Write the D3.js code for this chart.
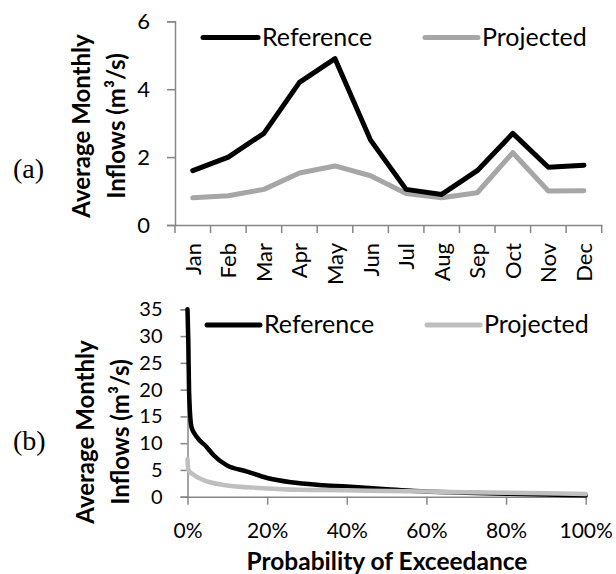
<!DOCTYPE html>
<html>
<head>
<meta charset="utf-8">
<script src="https://cdn.jsdelivr.net/npm/d3@7"></script>
<style>
  body { margin: 0; background: #fff; }
  text { font-family: Lato, "Open Sans", sans-serif; fill: #000; }
</style>
</head>
<body>
<svg id="chart" width="616" height="574"></svg>
<script>
(function() {

  // panel (a): average monthly inflows
  var months = ["Jan", "Feb", "Mar", "Apr", "May", "Jun", "Jul", "Aug", "Sep", "Oct", "Nov", "Dec"];
  var refMonthly  = [1.6, 2.0, 2.7, 4.2, 4.9, 2.5, 1.05, 0.9, 1.6, 2.7, 1.7, 1.76];
  var projMonthly = [0.8, 0.86, 1.05, 1.53, 1.74, 1.45, 0.93, 0.8, 0.95, 2.13, 1.0, 1.01];
  var yTicksA = [0, 2, 4, 6];

  // panel (b): flow duration curves (probability of exceedance in %)
  var refProb  = [0, 0.2, 0.4, 1, 2.3, 4.8, 6.5, 9.8, 15, 20, 26, 33, 40, 50, 57, 70, 80, 90, 100];
  var refFlow  = [35, 29, 19.5, 13, 11.2, 9.3, 7.8, 5.9, 4.7, 3.5, 2.7, 2.2, 1.9, 1.4, 1.05, 0.75, 0.55, 0.4, 0.25];
  var projProb = [0, 0.2, 1.5, 4, 9, 19, 28, 40, 50, 60, 70, 80, 90, 100];
  var projFlow = [7, 5, 4.1, 3.1, 2.2, 1.6, 1.3, 1.2, 1.05, 0.95, 0.85, 0.75, 0.65, 0.5];
  var xTicksB = [0, 20, 40, 60, 80, 100];
  var yTicksB = [0, 5, 10, 15, 20, 25, 30, 35];

  var axisColor = "#868686",
      black = "#000",
      grayA = "#a6a6a6",
      grayB = "#bfbfbf";

  var svg = d3.select("#chart");

  // ---------- panel (a) ----------
  var xA = d3.scaleBand()
      .domain(months)
      .range([175, 601.7]);

  var yA = d3.scaleLinear()
      .domain([0, 6])
      .range([225, 21.3]);

  var gA = svg.append("g");

  var yAxisA = d3.axisLeft(yA)
      .tickValues(yTicksA)
      .tickSize(8)
      .tickPadding(17)
      .tickFormat(d3.format("d"));

  gA.append("g")
      .attr("transform", "translate(" + xA.range()[0] + ",0)")
      .call(yAxisA)
      .call(styleAxis, 22);

  var xAxisA = d3.axisBottom(xA)
      .tickSize(0)
      .tickSizeOuter(0)
      .tickPadding(0);

  var xAxisG = gA.append("g")
      .attr("transform", "translate(0," + yA(0) + ")")
      .call(xAxisA)
      .call(styleAxis, 22);

  xAxisG.selectAll(".tick text")
      .attr("transform", "translate(8,18) rotate(-90)")
      .attr("text-anchor", "end")
      .attr("dy", 0)
      .attr("y", 0);

  // category boundary ticks
  xAxisG.selectAll(".bound")
      .data(months.map(m => xA(m)).concat([xA.range()[1]]))
    .enter().append("line")
      .attr("x1", d => d).attr("x2", d => d)
      .attr("y1", 0).attr("y2", 8)
      .attr("stroke", axisColor)
      .attr("stroke-width", 1.5);

  var lineA = d3.line()
      .x((d, i) => xA(months[i]) + xA.bandwidth() / 2)
      .y(d => yA(d));

  gA.append("path")
      .datum(projMonthly)
      .attr("d", lineA)
      .attr("fill", "none")
      .attr("stroke", grayA)
      .attr("stroke-width", 5)
      .attr("stroke-linejoin", "round")
      .attr("stroke-linecap", "round");

  gA.append("path")
      .datum(refMonthly)
      .attr("d", lineA)
      .attr("fill", "none")
      .attr("stroke", black)
      .attr("stroke-width", 5)
      .attr("stroke-linejoin", "round")
      .attr("stroke-linecap", "round");

  drawLegend(gA, 203, 258, 37.5, 46, black, "Reference");
  drawLegend(gA, 425, 478, 37.5, 46, grayA, "Projected");

  drawYTitle(svg, 90, 125, 126);

  svg.append("text")
      .attr("x", 13)
      .attr("y", 178)
      .style("font-family", "'Liberation Serif', serif")
      .style("font-size", "28px")
      .text("(a)");

  // ---------- panel (b) ----------
  var xB = d3.scaleLinear()
      .domain([0, 100])
      .range([187.5, 585.7]);

  var yB = d3.scaleLinear()
      .domain([0, 35])
      .range([496.7, 309.3]);

  var gB = svg.append("g");

  var yAxisB = d3.axisLeft(yB)
      .tickValues(yTicksB)
      .tickSize(7)
      .tickPadding(18)
      .tickFormat(d3.format("d"));

  gB.append("g")
      .attr("transform", "translate(" + xB(0) + ",0)")
      .call(yAxisB)
      .call(styleAxis, 20);

  var xAxisB = d3.axisBottom(xB)
      .tickValues(xTicksB)
      .tickSize(8)
      .tickSizeOuter(0)
      .tickPadding(18)
      .tickFormat(d => d + "%");

  gB.append("g")
      .attr("transform", "translate(0," + yB(0) + ")")
      .call(xAxisB)
      .call(styleAxis, 21);

  var lineB = d3.line()
      .x(d => xB(d[0]))
      .y(d => yB(d[1]))
      .curve(d3.curveMonotoneX);

  gB.append("path")
      .datum(refProb.map((p, i) => [p, refFlow[i]]))
      .attr("d", lineB)
      .attr("fill", "none")
      .attr("stroke", black)
      .attr("stroke-width", 4.5)
      .attr("stroke-linejoin", "round")
      .attr("stroke-linecap", "round");

  gB.append("path")
      .datum(projProb.map((p, i) => [p, projFlow[i]]))
      .attr("d", lineB)
      .attr("fill", "none")
      .attr("stroke", grayB)
      .attr("stroke-width", 4.5)
      .attr("stroke-linejoin", "round")
      .attr("stroke-linecap", "round");

  drawLegend(gB, 207, 260, 325, 333, black, "Reference");
  drawLegend(gB, 427, 480, 325, 333, grayB, "Projected");

  drawYTitle(svg, 94, 129, 432);

  svg.append("text")
      .attr("x", 387)
      .attr("y", 570)
      .attr("text-anchor", "middle")
      .style("font-size", "24.5px")
      .style("font-weight", "bold")
      .text("Probability of Exceedance");

  svg.append("text")
      .attr("x", 13)
      .attr("y", 450)
      .style("font-family", "'Liberation Serif', serif")
      .style("font-size", "28px")
      .text("(b)");

  function styleAxis(g, size) {
    g.select(".domain")
        .attr("stroke", axisColor)
        .attr("stroke-width", 1.5);
    g.selectAll(".tick line")
        .attr("stroke", axisColor)
        .attr("stroke-width", 1.5);
    g.selectAll(".tick text")
        .style("font-family", "Lato, 'Open Sans', sans-serif")
        .style("font-size", size + "px")
        .attr("fill", "#000");
  }

  function drawLegend(g, x1, x2, y, baseline, color, label) {
    g.append("line")
        .attr("x1", x1).attr("x2", x2)
        .attr("y1", y).attr("y2", y)
        .attr("stroke", color)
        .attr("stroke-width", 5)
        .attr("stroke-linecap", "round");
    g.append("text")
        .attr("x", x2 + 4)
        .attr("y", baseline)
        .style("font-size", "25px")
        .text(label);
  }

  function drawYTitle(g, x1, x2, cy) {
    var t = g.append("g")
        .style("font-size", "24px")
        .style("font-weight", "bold");
    t.append("text")
        .attr("transform", "translate(" + x1 + "," + cy + ") rotate(-90)")
        .attr("text-anchor", "middle")
        .text("Average Monthly");
    t.append("text")
        .attr("transform", "translate(" + x2 + "," + cy + ") rotate(-90)")
        .attr("text-anchor", "middle")
        .text("Inflows (m³/s)");
  }

})();
</script>
</body>
</html>
